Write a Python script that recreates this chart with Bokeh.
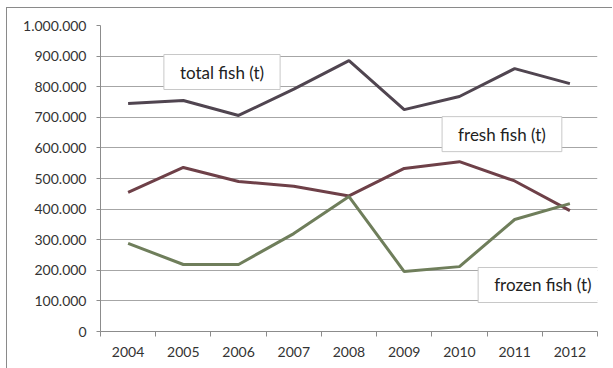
from bokeh.plotting import figure
from bokeh.models import Range1d, FixedTicker, Label
from bokeh.embed import file_html
from bokeh.resources import INLINE

years = ["2004", "2005", "2006", "2007", "2008", "2009", "2010", "2011", "2012"]
total_fish = [745000, 755000, 706000, 792000, 885000, 725000, 768000, 859000, 810000]
fresh_fish = [455000, 536000, 490000, 475000, 443000, 533000, 555000, 492000, 395000]
frozen_fish = [288000, 219000, 219000, 320000, 441000, 196000, 212000, 366000, 418000]
y_ticks = [0, 100000, 200000, 300000, 400000, 500000, 600000, 700000, 800000, 900000, 1000000]
y_tick_labels = ["0", "100.000", "200.000", "300.000", "400.000", "500.000",
                 "600.000", "700.000", "800.000", "900.000", "1.000.000"]

FONT = "Lato"
xs = [i + 0.5 for i in range(len(years))]

p = figure(width=606, height=361, output_backend="svg", toolbar_location=None,
           x_range=Range1d(0, len(years)), y_range=Range1d(0, 1000000),
           min_border_left=93, min_border_right=16, min_border_top=17, min_border_bottom=38)
p.margin = (7, 0, 0, 6)
p.styles = {"border-left": "1px solid #8a8a8a", "border-top": "1px solid #8a8a8a"}
p.outline_line_color = None
p.background_fill_color = "white"
p.border_fill_color = "white"

# x axis
p.xaxis.ticker = FixedTicker(ticks=xs, minor_ticks=list(range(len(years) + 1)))
p.xaxis.major_label_overrides = {x: y for x, y in zip(xs, years)}
p.xaxis.major_tick_out = 0
p.xaxis.major_tick_in = 0
p.xaxis.minor_tick_out = 5
p.xaxis.minor_tick_in = 0
p.xaxis.minor_tick_line_color = "#8c8c8c"
p.xaxis.axis_line_color = "#8c8c8c"
p.xaxis.major_label_standoff = 10
p.xaxis.major_label_text_font = FONT
p.xaxis.major_label_text_font_size = "14px"
p.xaxis.major_label_text_color = "#333333"
p.xgrid.grid_line_color = None

# y axis
p.yaxis.ticker = FixedTicker(ticks=y_ticks)
p.yaxis.major_label_overrides = {t: l for t, l in zip(y_ticks, y_tick_labels)}
p.yaxis.major_tick_out = 4
p.yaxis.major_tick_in = 0
p.yaxis.major_tick_line_color = "#8c8c8c"
p.yaxis.minor_tick_line_color = None
p.yaxis.axis_line_color = "#8c8c8c"
p.yaxis.major_label_standoff = 10
p.yaxis.major_label_text_font = FONT
p.yaxis.major_label_text_font_size = "14px"
p.yaxis.major_label_text_color = "#333333"
p.ygrid.grid_line_color = "#a6a6a6"
p.ygrid.grid_line_width = 1

p.line(xs, total_fish, line_color="#504550", line_width=3)
p.line(xs, fresh_fish, line_color="#6e4048", line_width=3)
p.line(xs, frozen_fish, line_color="#6f7e5b", line_width=3)

def box_label(x, y, text):
    lab = Label(x=x, y=y, text=text, text_font=FONT, text_font_size="17px",
                text_color="#222222", text_align="center", text_baseline="middle",
                background_fill_color="white", border_line_color="#c8c8c8",
                border_line_width=1, padding=(16, 7))
    p.add_layout(lab)

box_label(2.2, 848000, "total fish (t)")
box_label(7.27, 645000, "fresh fish (t)")
box_label(8.01, 152000, "frozen fish (t)")

open("out.html", "w").write(file_html(p, INLINE))
